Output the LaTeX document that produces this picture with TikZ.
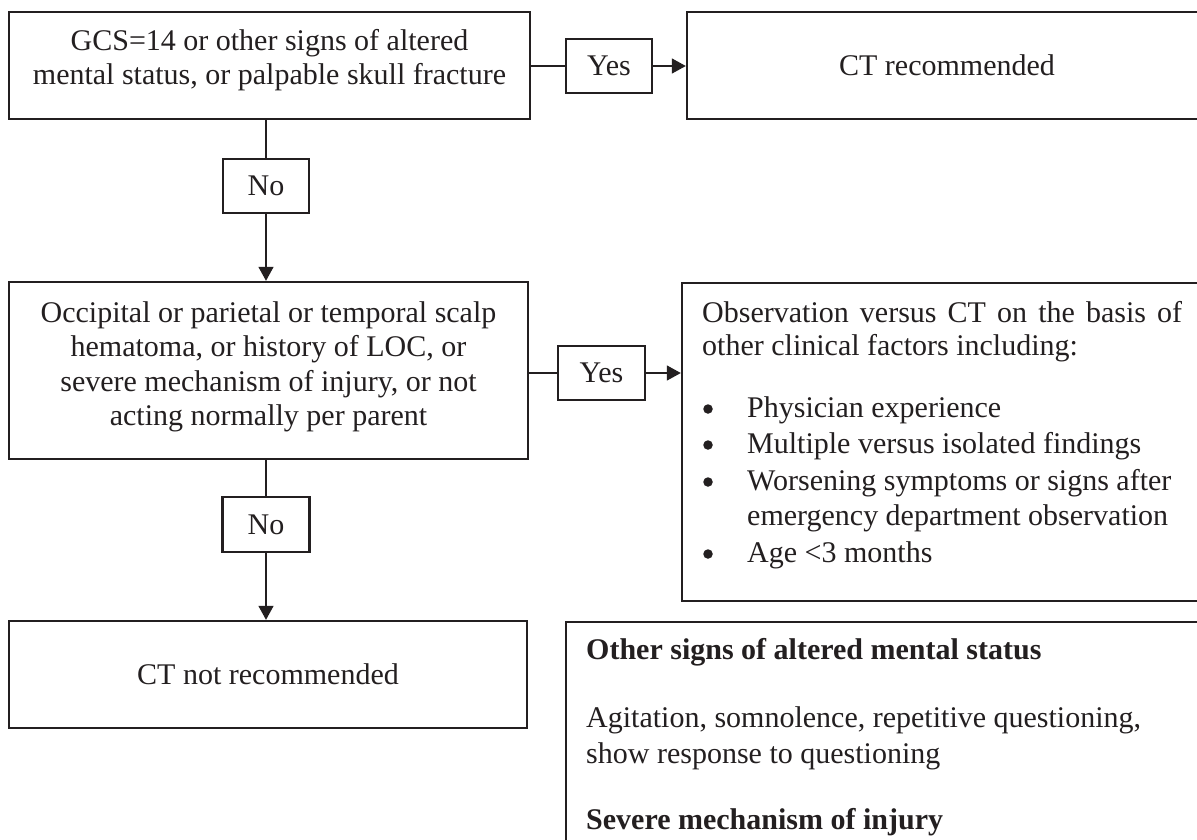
\documentclass[tikz,border=0pt]{standalone}
\usepackage{fontspec}
\setmainfont{Liberation Serif}
\usetikzlibrary{arrows.meta}
\definecolor{ink}{HTML}{231F20}
\begin{document}
\begin{tikzpicture}[x=1pt,y=-1pt,
  every node/.style={font=\fontsize{30}{34.5}\selectfont, text=ink, inner sep=0pt},
  box/.style={draw=ink, line width=2.4pt, rectangle},
  ansbox/.style={draw=ink, line width=2.4pt, rectangle, minimum width=86pt, minimum height=54pt},
  conn/.style={draw=ink, line width=1.5pt},
  arr/.style={conn, -{Triangle[length=14pt,width=15pt]}},
  txtline/.style={anchor=base west, inner sep=0pt},
  ctrline/.style={anchor=base, inner sep=0pt},
  bul/.style={circle, fill=ink, inner sep=0pt, minimum size=9.5pt}]
\useasboundingbox (0,0) rectangle (1197,839);
\clip (0,0) rectangle (1197,839);
\fill[white] (0,0) rectangle (1197,839);

% boxes
\node[box, minimum width=521pt, minimum height=107pt] (b1) at (269.5,65.5) {};
\node[ctrline] (b1t) at (269.5,50) {\parbox[t]{515pt}{\centering GCS=14 or other signs of altered\\ mental status, or palpable skull fracture}};
\node[ansbox] (y1) at (609,66) {Yes};
\node[box, minimum width=520pt, minimum height=107pt] (cr) at (947,65.5) {CT recommended};

\node[ansbox] (n1) at (266,186) {No};

\node[box, minimum width=519pt, minimum height=177pt] (b2) at (268.5,370.5) {};
\node[ctrline] (b2t) at (268.5,322) {\parbox[t]{515pt}{\centering Occipital or parietal or temporal scalp\\ hematoma, or history of LOC, or\\ severe mechanism of injury, or not\\ acting normally per parent}};
\node[ansbox, minimum width=87pt] (y2) at (601.5,373) {Yes};

\node[box, minimum width=530pt, minimum height=318pt] (b3) at (947,442) {};
\node[txtline] (o1) at (702,322) {\makebox[480pt][s]{Observation versus CT on the basis of}};
\node[txtline] (o2) at (702,355) {other clinical factors including:};
\node[bul] (d1) at (708,409) {};
\node[txtline] (p1) at (747,417) {Physician experience};
\node[bul] (d2) at (708,445) {};
\node[txtline] (p2) at (747,453) {Multiple versus isolated findings};
\node[bul] (d3) at (708,482) {};
\node[txtline] (p3) at (747,490) {Worsening symptoms or signs after};
\node[txtline] (p3b) at (747,525) {emergency department observation};
\node[bul] (d4) at (708,554) {};
\node[txtline] (p4) at (747,562) {Age <3 months};

\node[ansbox, minimum width=87pt, minimum height=55pt] (n2) at (266,524.5) {No};

\node[box, minimum width=518pt, minimum height=107pt] (b4) at (268,674.5) {CT not recommended};

\node[box, minimum width=649pt, minimum height=248pt] (b5) at (890.5,746) {};
\node[txtline] (s1) at (586,659) {\bfseries Other signs of altered mental status};
\node[txtline] (s2) at (586,727) {Agitation, somnolence, repetitive questioning,};
\node[txtline] (s3) at (586,763) {show response to questioning};
\node[txtline] (s4) at (586,829) {\bfseries Severe mechanism of injury};

% connectors
\draw[conn] (b1.south -| n1.north) -- (n1.north);
\draw[arr] (n1.south) -- (n1.south |- b2.north);
\draw[conn] (b1.east |- y1.west) -- (y1.west);
\draw[arr] (y1.east) -- (y1.east -| cr.west);
\draw[conn] (b2.east |- y2.west) -- (y2.west);
\draw[arr] (y2.east) -- (y2.east -| b3.west);
\draw[conn] (b2.south -| n2.north) -- (n2.north);
\draw[arr] (n2.south) -- (n2.south |- b4.north);
\end{tikzpicture}
\end{document}
